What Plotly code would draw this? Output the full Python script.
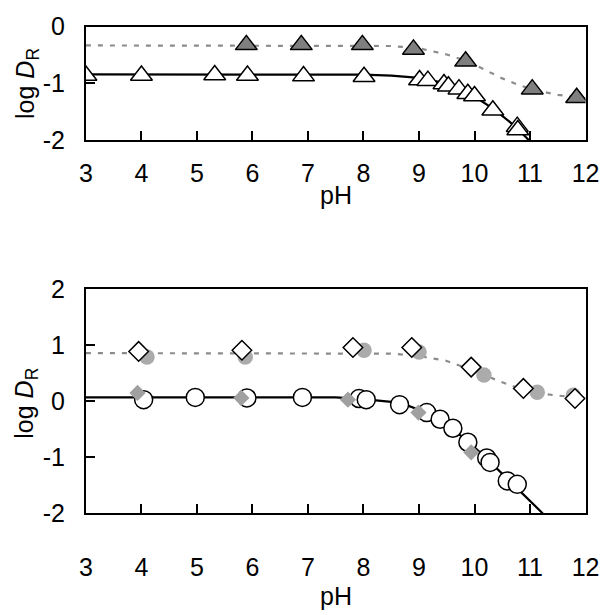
import plotly.graph_objects as go

# ---------------- data ----------------
# Top panel
top_open_ph = [3.0, 4.0, 5.32, 5.91, 6.92, 8.01, 9.01, 9.16, 9.45, 9.53, 9.72, 9.88, 10.0, 10.33, 10.77, 10.78]
top_open_logd = [-0.86, -0.86, -0.85, -0.86, -0.87, -0.88, -0.94, -0.95, -1.01, -1.05, -1.10, -1.18, -1.22, -1.47, -1.76, -1.82]
top_gray_ph = [5.89, 6.88, 7.98, 8.90, 9.84, 11.04, 11.84]
top_gray_logd = [-0.32, -0.32, -0.32, -0.40, -0.61, -1.10, -1.25]
top_solid_ph = [3.0, 8.0, 8.5, 9.0, 9.25, 9.5, 9.75, 10.0, 10.25, 10.5, 10.75, 10.98]
top_solid_logd = [-0.84, -0.845, -0.86, -0.90, -0.95, -1.00, -1.10, -1.23, -1.39, -1.57, -1.77, -2.0]
top_dash_ph = [3.0, 8.5, 9.0, 9.25, 9.5, 9.75, 10.0, 10.25, 10.5, 10.75, 11.0, 11.25, 11.5, 11.75, 12.0]
top_dash_logd = [-0.33, -0.34, -0.38, -0.43, -0.49, -0.57, -0.67, -0.79, -0.91, -1.01, -1.09, -1.15, -1.20, -1.23, -1.26]

# Bottom panel
bot_circle_ph = [4.04, 4.97, 5.90, 6.90, 7.92, 8.05, 8.65, 9.14, 9.38, 9.61, 9.88, 10.22, 10.28, 10.59, 10.77]
bot_circle_logd = [0.03, 0.07, 0.06, 0.07, 0.05, 0.03, -0.06, -0.20, -0.32, -0.48, -0.73, -1.01, -1.09, -1.42, -1.48]
bot_graydiam_ph = [3.93, 5.80, 7.72, 8.99, 9.94]
bot_graydiam_logd = [0.15, 0.06, 0.03, -0.20, -0.91]
bot_graycirc_ph = [4.10, 5.87, 8.01, 9.00, 10.17, 11.13, 11.78]
bot_graycirc_logd = [0.79, 0.79, 0.91, 0.88, 0.47, 0.16, 0.11]
bot_opendiam_ph = [3.95, 5.81, 7.81, 8.87, 9.94, 10.88, 11.81]
bot_opendiam_logd = [0.89, 0.91, 0.96, 0.96, 0.61, 0.23, 0.05]
bot_solid_ph = [3.0, 7.5, 8.0, 8.5, 8.75, 9.0, 9.25, 9.5, 9.75, 10.0, 10.25, 10.5, 10.75, 11.0, 11.23]
bot_solid_logd = [0.07, 0.07, 0.04, -0.01, -0.06, -0.15, -0.27, -0.43, -0.61, -0.82, -1.05, -1.29, -1.53, -1.78, -2.0]
bot_dash_ph = [3.0, 8.5, 9.0, 9.25, 9.5, 9.75, 10.0, 10.25, 10.5, 10.75, 11.0, 11.25, 11.5, 11.75, 12.0]
bot_dash_logd = [0.86, 0.85, 0.81, 0.77, 0.72, 0.63, 0.53, 0.43, 0.34, 0.25, 0.18, 0.13, 0.10, 0.07, 0.05]

x_ticks = [3, 4, 5, 6, 7, 8, 9, 10, 11, 12]
x_ticktext = ["3", "4", "5", "6", "7", "8", "9", "10", "11", "12"]
top_y_ticks = [-2, -1, 0]
top_y_ticktext = ["-2", "-1", "0"]
bot_y_ticks = [-2, -1, 0, 1, 2]
bot_y_ticktext = ["-2", "-1", "0", "1", "2"]
x_title = "pH"
y_title = "log <i>D</i><sub>R</sub>"

# ---------------- figure ----------------
FONT = "Liberation Sans, Arial, sans-serif"
FS = 25
W = H = 615
fig = go.Figure()

DASH_COL = "#8c8c8c"

def add(x, y, xa, ya, **kw):
    fig.add_trace(go.Scatter(x=x, y=y, xaxis=xa, yaxis=ya, showlegend=False, **kw))

# top panel
add(top_dash_ph, top_dash_logd, "x", "y", mode="lines",
    line=dict(color=DASH_COL, width=2.2, dash="5px,7px"))
add(top_solid_ph, top_solid_logd, "x", "y", mode="lines",
    line=dict(color="black", width=2.2))
add(top_gray_ph, top_gray_logd, "x", "y", mode="markers",
    marker=dict(symbol="triangle-up", size=19, color="#7f7f7f", line=dict(color="black", width=1.5)))
add(top_open_ph, top_open_logd, "x", "y", mode="markers",
    marker=dict(symbol="triangle-up", size=19, color="white", line=dict(color="black", width=1.5)))

# bottom panel
add(bot_dash_ph, bot_dash_logd, "x2", "y2", mode="lines",
    line=dict(color=DASH_COL, width=2.2, dash="5px,7px"))
add(bot_solid_ph, bot_solid_logd, "x2", "y2", mode="lines",
    line=dict(color="black", width=2.2))
add(bot_circle_ph, bot_circle_logd, "x2", "y2", mode="markers",
    marker=dict(symbol="circle", size=18, color="white", line=dict(color="black", width=1.5)))
add(bot_graydiam_ph, bot_graydiam_logd, "x2", "y2", mode="markers",
    marker=dict(symbol="diamond", size=12.5, color="#a0a0a0", line=dict(width=0)))
add(bot_graycirc_ph, bot_graycirc_logd, "x2", "y2", mode="markers",
    marker=dict(symbol="circle", size=15.5, color="#ababab", line=dict(width=0)))
add(bot_opendiam_ph, bot_opendiam_logd, "x2", "y2", mode="markers",
    marker=dict(symbol="diamond", size=15, color="white", line=dict(color="black", width=1.5)))

x0, x1 = 81.7 / W, 599 / W
top_dom = [1 - 132.3 / H, 1 - 13.3 / H]
bot_dom = [1 - 523.3 / H, 1 - 288.3 / H]

axis_common = dict(showline=True, linecolor="black", linewidth=2, mirror=True,
                   ticks="inside", ticklen=9, tickwidth=2, tickcolor="black",
                   showgrid=False, zeroline=False,
                   tickfont=dict(family=FONT, size=FS, color="black"))

fig.update_layout(
    width=W, height=H, margin=dict(l=0, r=0, t=0, b=0),
    paper_bgcolor="white", plot_bgcolor="white",
    font=dict(family=FONT, size=FS, color="black"),
    xaxis=dict(domain=[x0, x1], range=[3, 12], anchor="y", tickvals=x_ticks, ticktext=x_ticktext,
               ticklabelstandoff=10, **axis_common),
    yaxis=dict(domain=top_dom, range=[-2, 0], anchor="x", tickvals=top_y_ticks, ticktext=top_y_ticktext,
               ticklabelstandoff=14, **axis_common),
    xaxis2=dict(domain=[x0, x1], range=[3, 12], anchor="y2", tickvals=x_ticks, ticktext=x_ticktext,
                ticklabelstandoff=31, **axis_common),
    yaxis2=dict(domain=bot_dom, range=[-2, 2], anchor="x2", tickvals=bot_y_ticks, ticktext=bot_y_ticktext,
                ticklabelstandoff=14, **axis_common),
)

cx = (81.7 + 599) / 2 / W
fig.add_annotation(text=x_title, x=cx, y=1 - 190 / H, xref="paper", yref="paper",
                   showarrow=False, font=dict(family=FONT, size=FS), xanchor="center", yanchor="middle")
fig.add_annotation(text=x_title, x=cx, y=0, xref="paper", yref="paper",
                   showarrow=False, font=dict(family=FONT, size=FS), xanchor="center", yanchor="bottom",
                   yshift=-11)
fig.add_annotation(text=y_title, x=20 / W, y=1 - 73 / H, xref="paper", yref="paper", textangle=-90,
                   showarrow=False, font=dict(family=FONT, size=FS), xanchor="center", yanchor="middle")
fig.add_annotation(text=y_title, x=20 / W, y=1 - 408 / H, xref="paper", yref="paper", textangle=-90,
                   showarrow=False, font=dict(family=FONT, size=FS), xanchor="center", yanchor="middle")

fig.write_html("out.html")
